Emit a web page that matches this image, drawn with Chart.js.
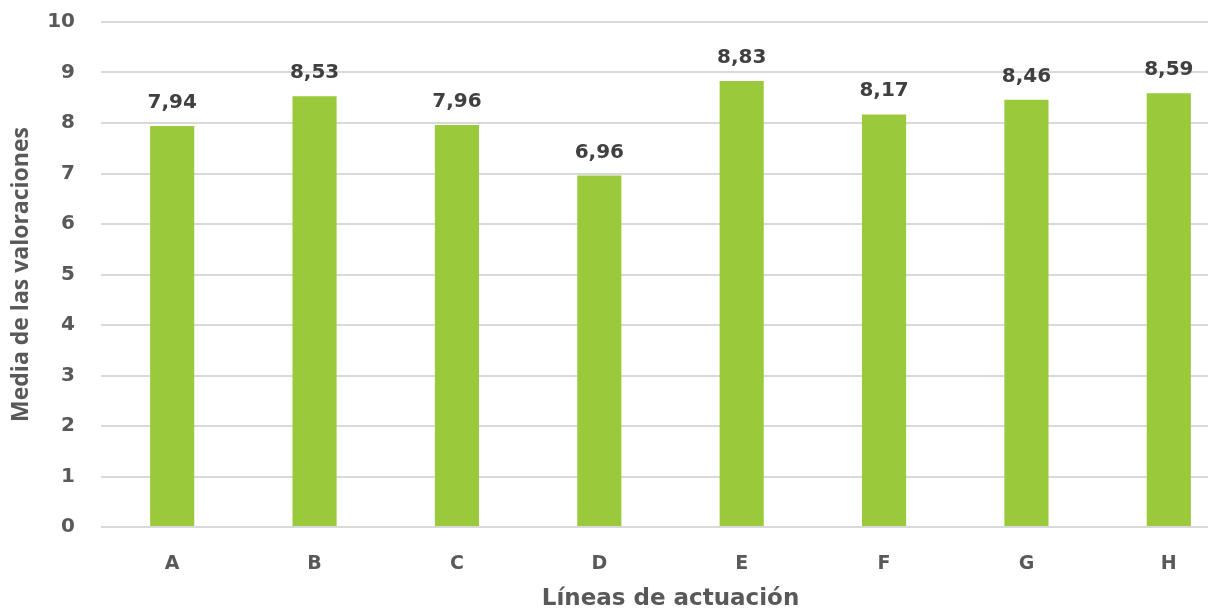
<!DOCTYPE html>
<html>
<head>
<meta charset="utf-8">
<script src="https://cdn.jsdelivr.net/npm/chart.js@4"></script>
<style>
  html, body { margin: 0; padding: 0; background: #fff; overflow: hidden; }
  #wrap { position: absolute; left: 0; top: 0; width: 1240px; height: 612px; }
</style>
</head>
<body>
<div id="wrap"><canvas id="chart"></canvas></div>
<script>
const categories = ["A", "B", "C", "D", "E", "F", "G", "H"];
const values = [7.94, 8.53, 7.96, 6.96, 8.83, 8.17, 8.46, 8.59];
const yTicks = [0, 1, 2, 3, 4, 5, 6, 7, 8, 9, 10];

const WIDE = "'DejaVu Sans', sans-serif";
const FONT = "'Open Sans', sans-serif";

// labels over the bars, comma as decimal separator
const valueLabels = {
  id: "valueLabels",
  afterDatasetsDraw(chart) {
    const ctx = chart.ctx;
    const meta = chart.getDatasetMeta(0);
    ctx.save();
    ctx.font = "bold 20px " + WIDE;
    ctx.fillStyle = "#404040";
    ctx.textAlign = "center";
    ctx.textBaseline = "alphabetic";
    meta.data.forEach((bar, i) => {
      ctx.fillText(values[i].toFixed(2).replace(".", ","), bar.x, bar.y - 18);
    });
    ctx.restore();
  }
};

new Chart(document.getElementById("chart"), {
  type: "bar",
  data: {
    labels: categories,
    datasets: [{
      label: "Media",
      data: values,
      backgroundColor: "#9aca3c",
      barPercentage: 0.62,
      categoryPercentage: 0.5
    }]
  },
  options: {
    responsive: true,
    maintainAspectRatio: false,
    animation: false,
    layout: { padding: { top: 22, right: 0, bottom: 0, left: 0 } },
    plugins: {
      legend: { display: false },
      tooltip: { enabled: false }
    },
    scales: {
      x: {
        grid: { display: false },
        border: { display: false },
        ticks: { color: "#595959", font: { family: WIDE, size: 19, weight: "bold" }, padding: 18 },
        title: {
          display: true,
          text: "Líneas de actuación",
          color: "#595959",
          font: { family: WIDE, size: 23, weight: "bold", lineHeight: 1.1 },
          padding: { top: 10, bottom: 0 }
        },
        afterFit(scale) { scale.height = 85; }
      },
      y: {
        min: 0,
        max: 10,
        afterBuildTicks(scale) { scale.ticks = yTicks.map(v => ({ value: v })); },
        grid: { color: "#d9d9d9", lineWidth: 2, drawTicks: false },
        border: { display: false },
        ticks: { color: "#595959", font: { family: WIDE, size: 20, weight: "bold" }, padding: 26 },
        title: {
          display: true,
          text: "Media de las valoraciones",
          color: "#595959",
          font: { family: FONT, size: 23, weight: "bold" },
          padding: { top: 8, bottom: 0 }
        },
        afterFit(scale) {
          scale.width = 101;
          scale.paddingTop = 0;
        }
      }
    }
  },
  plugins: [valueLabels]
});
</script>
</body>
</html>
